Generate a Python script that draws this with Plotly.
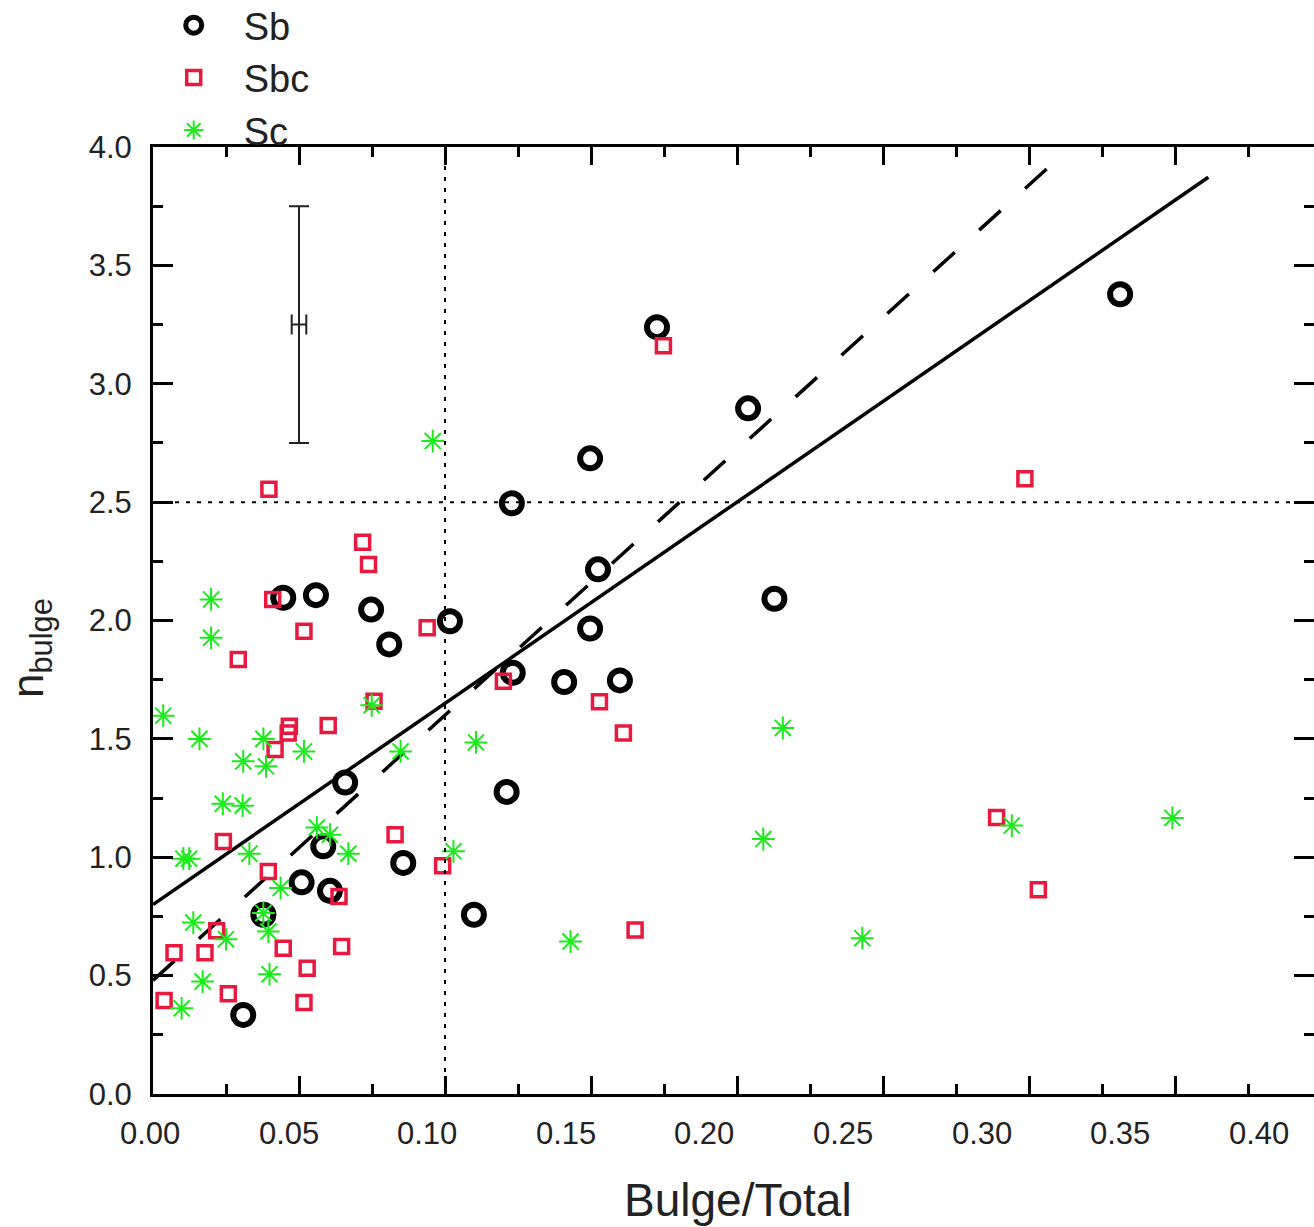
import plotly.graph_objects as go

# ---------------- data ----------------
SB_X = [0.3312, 0.1726, 0.2038, 0.1497, 0.1229, 0.1524, 0.2128, 0.0446, 0.0558, 0.0747,
        0.0809, 0.1017, 0.1497, 0.1232, 0.1408, 0.1599, 0.0658, 0.1211, 0.0583, 0.0857,
        0.0509, 0.0606, 0.0378, 0.1099, 0.0309]
SB_Y = [3.378, 3.239, 2.896, 2.685, 2.495, 2.216, 2.092, 2.096, 2.107, 2.046,
        1.899, 1.997, 1.966, 1.779, 1.740, 1.747, 1.316, 1.276, 1.046, 0.976,
        0.894, 0.858, 0.757, 0.757, 0.334]

SBC_X = [0.0397, 0.0718, 0.0738, 0.0410, 0.0517, 0.0939, 0.0292, 0.1200, 0.1748, 0.2986,
         0.0757, 0.0467, 0.0463, 0.0600, 0.0418, 0.1529, 0.1611, 0.0241, 0.0829, 0.0992,
         0.0395, 0.0637, 0.0218, 0.0072, 0.0178, 0.0446, 0.0646, 0.0528, 0.0258, 0.0038,
         0.0517, 0.1651, 0.2889, 0.3032]
SBC_Y = [2.554, 2.331, 2.237, 2.089, 1.955, 1.969, 1.835, 1.743, 3.160, 2.599,
         1.659, 1.553, 1.525, 1.556, 1.455, 1.657, 1.525, 1.067, 1.095, 0.964,
         0.940, 0.834, 0.690, 0.597, 0.597, 0.616, 0.623, 0.531, 0.423, 0.395,
         0.386, 0.693, 1.168, 0.863]

SC_X = [0.0958, 0.0199, 0.0199, 0.0035, 0.0159, 0.0749, 0.0378, 0.0309, 0.0387, 0.0517,
        0.0848, 0.1106, 0.2157, 0.0239, 0.0307, 0.0561, 0.0606, 0.0669, 0.1029, 0.0104,
        0.0124, 0.0330, 0.0437, 0.0378, 0.0395, 0.0138, 0.0250, 0.0399, 0.0170, 0.0098,
        0.2090, 0.1430, 0.2429, 0.2941, 0.3491]
SC_Y = [2.758, 2.089, 1.927, 1.598, 1.500, 1.642, 1.500, 1.405, 1.384, 1.447,
        1.447, 1.485, 1.546, 1.226, 1.218, 1.126, 1.095, 1.015, 1.025, 0.994,
        0.994, 1.015, 0.870, 0.764, 0.686, 0.724, 0.654, 0.506, 0.475, 0.362,
        1.077, 0.644, 0.658, 1.134, 1.166]

# fit lines
FIT_X = [0.0, 0.3614]
FIT_Y = [0.80, 3.872]
DASH_X = [0.0, 0.3143]
DASH_Y = [0.48, 4.0]

# reference dotted lines
VLINE_X = 0.10
HLINE_Y = 2.5

# typical error bar
ERR_X = [0.05]
ERR_Y = [3.25]
ERR_DX = [0.0025]
ERR_DY = [0.5]

# x tick labels (printed slightly compressed relative to tick marks in the original)
XTICK_VALUES = [0.00, 0.05, 0.10, 0.15, 0.20, 0.25, 0.30, 0.35, 0.40]
XTICK_TEXT = ["0.00", "0.05", "0.10", "0.15", "0.20", "0.25", "0.30", "0.35", "0.40"]
LABEL_COMPRESS = 0.9493
LABEL_OFFSET = -0.00103

FONT = "Liberation Sans, Arial, Helvetica, sans-serif"
TXT = "#222222"
RED = "#e8193f"
GREEN = "#1aeb1a"

fig = go.Figure()

fig.add_trace(go.Scatter(x=FIT_X, y=FIT_Y, mode="lines",
                         line=dict(color="black", width=3.5),
                         showlegend=False, hoverinfo="skip"))
fig.add_trace(go.Scatter(x=DASH_X, y=DASH_Y, mode="lines",
                         line=dict(color="black", width=3.5, dash="29px,33px"),
                         showlegend=False, hoverinfo="skip"))

fig.add_trace(go.Scatter(x=ERR_X, y=ERR_Y, mode="markers",
                         marker=dict(size=1, color="rgba(0,0,0,0)"),
                         error_x=dict(type="data", array=ERR_DX, width=10, thickness=2, color="#222"),
                         error_y=dict(type="data", array=ERR_DY, width=10, thickness=2, color="#222"),
                         showlegend=False, hoverinfo="skip"))

fig.add_trace(go.Scatter(x=SB_X, y=SB_Y, mode="markers", name="Sb",
                         marker=dict(symbol="circle-open", size=20, color="black",
                                     line=dict(width=6, color="black"))))
fig.add_trace(go.Scatter(x=SBC_X, y=SBC_Y, mode="markers", name="Sbc",
                         marker=dict(symbol="square-open", size=14, color=RED,
                                     line=dict(width=3.5, color=RED))))
fig.add_trace(go.Scatter(x=SC_X, y=SC_Y, mode="markers", name="Sc",
                         marker=dict(symbol="asterisk-open", size=19, color=GREEN,
                                     line=dict(width=2, color=GREEN))))

W, H = 1314, 1227
L, R, T, B = 153, 0, 147, 133
PLOT_W = W - L - R
PLOT_H = H - T - B
X_PER_PX = 0.05 / 146.0
X_MAX = PLOT_W * X_PER_PX

shapes = [
    dict(type="line", xref="x", yref="paper", x0=VLINE_X, x1=VLINE_X, y0=0, y1=1,
         line=dict(color="black", width=2, dash="4px,7px")),
    dict(type="line", xref="paper", yref="y", x0=0, x1=1, y0=HLINE_Y, y1=HLINE_Y,
         line=dict(color="black", width=2, dash="4px,7px")),
]

annotations = []
for v, t in zip(XTICK_VALUES, XTICK_TEXT):
    annotations.append(dict(x=(LABEL_OFFSET + v * LABEL_COMPRESS) / X_MAX, y=(1094 - 1133) / PLOT_H,
                            xref="paper", yref="paper",
                            text=t, showarrow=False, xanchor="center", yanchor="middle",
                            font=dict(family=FONT, size=31, color=TXT)))
annotations.append(dict(x=(738 - L) / PLOT_W, y=(1094 - 1200) / PLOT_H, xref="paper", yref="paper",
                        text="Bulge/Total", showarrow=False, xanchor="center", yanchor="middle",
                        font=dict(family=FONT, size=46, color=TXT)))
annotations.append(dict(x=(31 - L) / PLOT_W, y=(1094 - 648) / PLOT_H, xref="paper", yref="paper",
                        text="n<sub>bulge</sub>", textangle=-90, showarrow=False,
                        xanchor="center", yanchor="middle",
                        font=dict(family=FONT, size=44, color=TXT)))

axis_common = dict(showline=True, linewidth=3, linecolor="black", mirror="ticks",
                   ticks="inside", tickwidth=3, tickcolor="black",
                   showgrid=False, zeroline=False)

fig.update_layout(
    width=W, height=H,
    margin=dict(l=L, r=R, t=T, b=B, pad=0, autoexpand=False),
    paper_bgcolor="white", plot_bgcolor="white",
    font=dict(family=FONT, color=TXT),
    xaxis=dict(range=[0, X_MAX], tick0=0, dtick=0.05, ticklen=18, showticklabels=False,
               minor=dict(ticks="inside", ticklen=10, tickwidth=3, tickcolor="black", dtick=0.025),
               **axis_common),
    yaxis=dict(range=[0, 4.0], tick0=0, dtick=0.5, ticklen=20, tickformat=".1f",
               tickfont=dict(family=FONT, size=31, color=TXT), ticklabelstandoff=12,
               minor=dict(ticks="inside", ticklen=10, tickwidth=3, tickcolor="black", dtick=0.25),
               **axis_common),
    legend=dict(x=-0.008, y=1 + (T + 6) / PLOT_H, xanchor="left", yanchor="top",
                bgcolor="rgba(0,0,0,0)",
                font=dict(family=FONT, size=38, color=TXT), itemwidth=90,
                tracegroupgap=0),
    shapes=shapes,
    annotations=annotations,
)

fig.write_html("out.html")
